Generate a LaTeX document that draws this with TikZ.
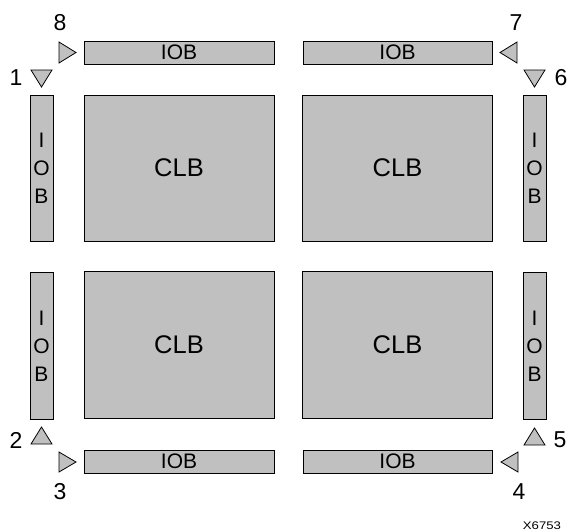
\documentclass[tikz,border=0pt]{standalone}
\usepackage{fontspec}
\setmainfont{Liberation Sans}
\definecolor{blockgray}{HTML}{C0C0C0}
\tikzset{
  clb/.style={draw,fill=blockgray,line width=1pt,inner sep=0pt,outer sep=0pt,
    minimum width=190pt,minimum height=146pt,font=\fontsize{25.5}{30}\selectfont},
  hiob/.style={draw,fill=blockgray,line width=1pt,inner sep=0pt,outer sep=0pt,
    minimum width=190pt,minimum height=23pt,font=\fontsize{21}{24}\selectfont},
  viob/.style={draw,fill=blockgray,line width=1pt,inner sep=0pt,outer sep=0pt,
    minimum width=23pt,minimum height=146pt,align=center,font=\fontsize{21}{28}\selectfont},
  tri/.style={draw,fill=blockgray,line width=0.8pt,line join=miter},
  pin/.style={font=\fontsize{23}{26}\selectfont,inner sep=0pt}
}
\begin{document}
\begin{tikzpicture}[x=1pt,y=-1pt]
\useasboundingbox (0,0) rectangle (569,531);
% logic blocks
\node[clb] (clbA) at (179,168) {CLB};
\node[clb] (clbB) at (397.5,168) {CLB};
\node[clb,minimum height=147pt] (clbC) at (179,344.5) {CLB};
\node[clb,minimum height=147pt] (clbD) at (397.5,344.5) {CLB};
% io blocks
\node[hiob] (iobT1) at (179,52.5) {IOB};
\node[hiob,minimum width=189pt] (iobT2) at (397.5,52.5) {IOB};
\node[hiob] (iobB1) at (179,461.5) {IOB};
\node[hiob,minimum width=189pt] (iobB2) at (397.5,461.5) {IOB};
\node[viob] (iobL1) at (41.5,168) {I\\O\\B};
\node[viob,minimum height=147pt] (iobL2) at (41.5,346) {I\\O\\B};
\node[viob] (iobR1) at (534.5,168) {I\\O\\B};
\node[viob,minimum height=147pt] (iobR2) at (534.5,346) {I\\O\\B};
% corner arrows
\draw[tri] (59,42)--(76,52.5)--(59,63)--cycle;
\draw[tri] (31,70)--(52,70)--(41.5,87)--cycle;
\draw[tri] (517,42)--(500,52.5)--(517,63)--cycle;
\draw[tri] (524,70)--(545,70)--(534.5,87)--cycle;
\draw[tri] (31,444)--(52,444)--(41.5,427)--cycle;
\draw[tri] (524,445)--(545,445)--(534.5,428)--cycle;
\draw[tri] (59,452)--(76,462)--(59,472)--cycle;
\draw[tri] (518,452)--(501,462)--(518,472)--cycle;
% pin numbers
\node[pin] (p8) at (60,23) {8};
\node[pin] (p7) at (516,23) {7};
\node[pin] (p1) at (16,78) {1};
\node[pin] (p6) at (561,78) {6};
\node[pin] (p2) at (16,440) {2};
\node[pin] (p5) at (560,440) {5};
\node[pin] (p3) at (60,492) {3};
\node[pin] (p4) at (519,492) {4};
\node[font=\fontsize{11}{12}\selectfont,inner sep=0pt,xscale=1.2] (fig) at (542,525.5) {X6753};
\end{tikzpicture}
\end{document}
